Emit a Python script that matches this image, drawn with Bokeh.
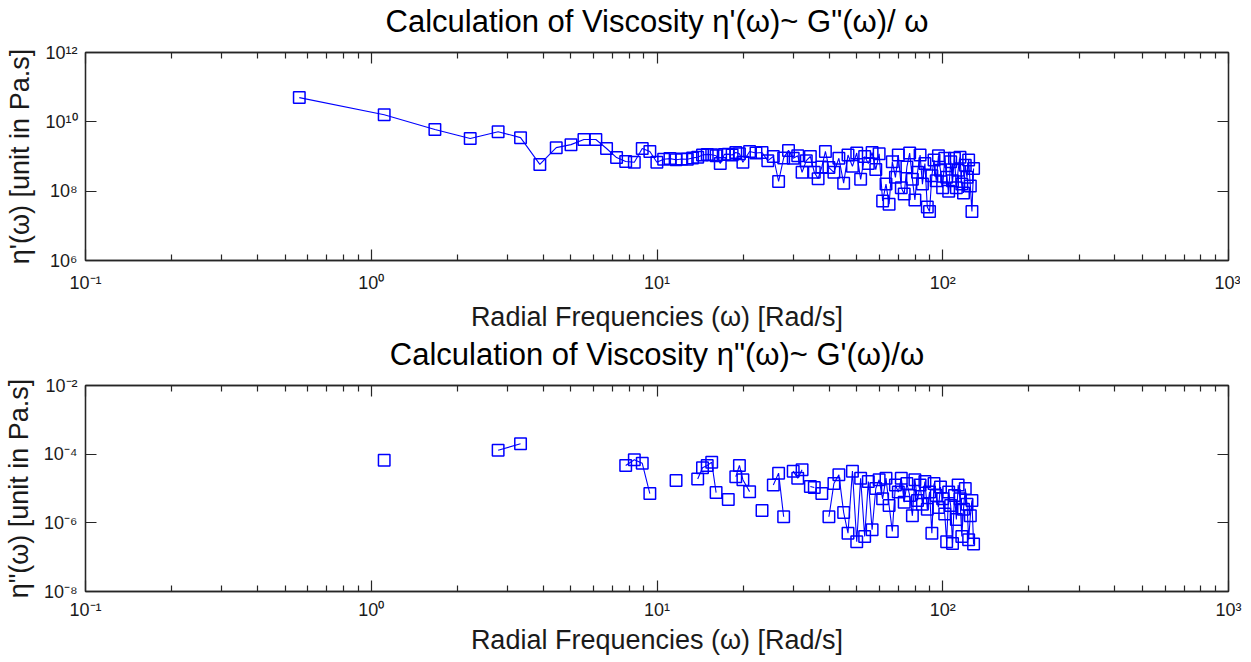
from bokeh.plotting import figure
from bokeh.layouts import column
from bokeh.models import Range1d, FixedTicker, LogAxis, CustomJSTickFormatter
from bokeh.embed import file_html
from bokeh.resources import INLINE

nan = float("nan")

# Radial frequencies [rad/s]
freq = [0.56, 1.11, 1.67, 2.22, 2.78, 3.33, 3.89, 4.44, 5.00, 5.55, 6.11, 6.66, 7.22, 7.77,
        8.33, 8.88, 9.44, 9.99, 10.55, 11.10, 11.66, 12.21, 12.77, 13.32, 13.88, 14.43, 14.99,
        15.54, 16.10, 16.65, 17.21, 17.76, 18.32, 18.87, 19.43, 19.98,
        21.09, 22.20, 23.31, 24.42, 25.53, 26.64, 27.75, 28.86, 29.97, 31.08, 32.19, 33.30,
        34.41, 35.52, 36.63, 37.74, 38.85, 39.96,
        41.6, 43.3, 45.0, 46.6, 48.3, 50.0, 51.6, 53.3, 54.9, 56.6, 58.3, 59.9, 61.6, 63.3,
        64.9, 66.6, 68.3, 69.9, 71.6, 73.3, 74.9, 76.6, 78.3, 79.9, 81.6, 83.3, 84.9, 86.6,
        88.3, 89.9, 91.6, 93.2, 94.9, 96.6, 98.2, 99.9, 101.6, 103.2, 104.9, 106.6, 108.2,
        109.9, 111.6, 113.2, 114.9, 116.6, 118.2, 119.9, 121.6, 123.2, 124.9, 126.5, 128.2]

# eta'(w) ~ G''(w)/w  [Pa.s]
eta_p = [5.0e10, 1.6e10, 6.0e9, 3.3e9, 5.2e9, 3.5e9, 5.9e8, 1.8e9, 2.2e9, 3.1e9, 3.1e9, 1.7e9,
         9.3e8, 7.2e8, 6.8e8, 1.7e9, 1.4e9, 6.8e8, 8.3e8, 8.7e8, 8.1e8, 8.5e8, 8.3e8, 9.1e8,
         9.5e8, 1.1e9, 1.15e9, 1.12e9, 1.05e9, 6.3e8, 1.15e9, 1.17e9, 1.1e9, 1.3e9, 1.2e9, 6.8e8,
         1.4e9, 1.26e9, 1.3e9, 7.6e8, 1.0e9, 1.9e8, 9.1e8, 1.5e9, 8.9e8, 1.05e9, 3.5e8, 7.6e8,
         1.0e9, 3.5e8, 2.3e8, 5.0e8, 1.4e9, 4.8e8,
         3.5e8, 8.9e8, 1.7e8, 1.1e9, 5.2e8, 1.26e9, 2.2e8, 1.0e9, 6.3e8, 1.3e9, 4.2e8, 1.2e9,
         5.2e7, 1.6e8, 4.2e7, 7.1e8, 2.5e8, 1.1e9, 1.26e8, 8.3e7, 5.0e8, 1.26e9, 2.2e8, 5.6e7,
         3.5e8, 1.1e9, 1.6e8, 6.3e8, 3.5e7, 2.6e7, 2.8e8, 7.9e8, 2.0e8, 1.05e9, 4.0e8, 1.26e8,
         8.9e8, 2.5e8, 1.0e8, 7.1e8, 2.0e8, 8.9e8, 1.26e8, 4.0e8, 9.5e8, 1.6e8, 8.9e7, 5.6e8,
         2.5e8, 7.9e8, 1.4e8, 2.6e7, 4.5e8]

# eta''(w) ~ G'(w)/w  [Pa.s]  (nan = not plottable on log axis)
eta_pp = [nan, 6.6e-5, nan, nan, 1.3e-4, 2.0e-4, nan, nan, nan, nan, nan, nan, nan, 4.7e-5,
          6.9e-5, 5.4e-5, 7.1e-6, nan, nan, nan, 1.7e-5, nan, nan, nan, 1.9e-5, 4.0e-5, 4.7e-5,
          5.8e-5, 7.6e-6, nan, nan, 4.8e-6, nan, 2.2e-5, 4.7e-5, 1.8e-5,
          8.1e-6, nan, 2.3e-6, nan, 1.26e-5, 2.8e-5, 1.5e-6, nan, 3.2e-5, 2.0e-5, 3.5e-5, nan,
          1.15e-5, 1.07e-5, nan, 7.1e-6, nan, 1.5e-6,
          1.4e-5, 2.5e-5, 2.0e-6, 5.0e-7, 3.2e-5, 2.8e-7, 2.0e-5, 4.0e-7, 1.6e-5, 6.3e-7, 1.0e-5,
          1.8e-5, 5.0e-6, 2.0e-5, 3.2e-6, 5.6e-7, 1.26e-5, 7.9e-6, 2.0e-5, 4.0e-6, 1.4e-5, 6.3e-6,
          1.6e-6, 1.8e-5, 4.5e-6, 1.26e-5, 3.5e-6, 1.6e-5, 2.5e-6, 7.9e-6, 5.0e-7, 1.4e-5, 6.3e-6,
          2.8e-6, 1.1e-5, 5.0e-6, 1.8e-6, 2.8e-7, 7.9e-6, 3.2e-6, 2.5e-7, 6.3e-6, 1.26e-6, 1.26e-5,
          5.0e-6, 4.0e-7, 2.5e-6, 1.0e-5, 3.5e-6, 3.2e-7, 1.6e-6, 4.5e-6, 2.4e-7]

x_ticks = [0.1, 1, 10, 100, 1000]
top_y_ticks = [1e6, 1e8, 1e10, 1e12]
bot_y_ticks = [1e-8, 1e-6, 1e-4, 1e-2]

titles = ["Calculation of Viscosity \u03b7'(\u03c9)~ G\"(\u03c9)/ \u03c9",
          "Calculation of Viscosity \u03b7\"(\u03c9)~ G'(\u03c9)/\u03c9"]
ylabels = ["\u03b7'(\u03c9) [unit in Pa.s]", "\u03b7\"(\u03c9) [unit in Pa.s]"]
xlabel = "Radial Frequencies (\u03c9) [Rad/s]"

FONT = "Liberation Sans"
BLUE = "#0000ff"

sup_js = """
const e = Math.round(Math.log10(tick));
const sup = {'-':'\u207b','0':'\u2070','1':'\u00b9','2':'\u00b2','3':'\u00b3','4':'\u2074',
             '5':'\u2075','6':'\u2076','7':'\u2077','8':'\u2078','9':'\u2079'};
return '10' + String(e).split('').map(c => sup[c]).join('');
"""
blank_js = "return ' ';"

minor_x = [m * d for d in [0.1, 1, 10, 100] for m in range(2, 10)]


def style_axis(ax, ticker, labels=True, minor=True, gap=0):
    ax.ticker = ticker
    ax.axis_line_color = "#262626"
    ax.axis_line_width = 1.3
    ax.major_tick_line_color = "#262626"
    ax.minor_tick_line_color = "#262626"
    ax.major_tick_line_width = 1.2
    ax.minor_tick_line_width = 1.2
    ax.major_tick_in = 11
    ax.major_tick_out = 0
    ax.minor_tick_in = 6 if minor else 0
    ax.minor_tick_out = 0
    if labels:
        ax.formatter = CustomJSTickFormatter(code=sup_js)
        ax.major_label_text_font = FONT
        ax.major_label_text_font_size = "18px"
        ax.major_label_text_color = "#1a1a1a"
    else:
        ax.formatter = CustomJSTickFormatter(code=blank_js)
        ax.major_label_standoff = gap
        ax.major_label_text_font_size = "1px"


def make_fig(idx, yvals, yr, yticks, top_b, frame_h, bot_b, tick_standoff, label_standoff):
    p = figure(frame_width=1143, frame_height=frame_h,
               x_axis_type="log", y_axis_type="log",
               x_range=Range1d(0.1, 1000), y_range=Range1d(*yr),
               output_backend="svg", toolbar_location=None,
               min_border_left=78, min_border_right=14,
               min_border_top=top_b, min_border_bottom=bot_b)
    p.background_fill_color = "white"
    p.border_fill_color = "white"
    p.outline_line_color = "#262626"
    p.outline_line_width = 1.3
    p.grid.visible = False

    p.title.text = titles[idx]
    p.title.align = "center"
    p.title.text_font = FONT
    p.title.text_font_size = "31px"
    p.title.text_font_style = "normal"
    p.title.text_color = "#000000"
    p.title.standoff = 0

    xt = FixedTicker(ticks=x_ticks, minor_ticks=minor_x)
    yt = FixedTicker(ticks=yticks, minor_ticks=[])

    xa = p.xaxis[0]
    style_axis(xa, xt)
    xa.major_label_standoff = tick_standoff
    xa.axis_label = xlabel
    xa.axis_label_text_font = FONT
    xa.axis_label_text_font_size = "27px"
    xa.axis_label_text_font_style = "normal"
    xa.axis_label_text_color = "#1a1a1a"
    xa.axis_label_standoff = label_standoff

    ya = p.yaxis[0]
    style_axis(ya, yt, minor=False)
    ya.major_label_standoff = 8
    ya.axis_label = ylabels[idx]
    ya.axis_label_text_font = FONT
    ya.axis_label_text_font_size = "27px"
    ya.axis_label_text_font_style = "normal"
    ya.axis_label_text_color = "#1a1a1a"
    ya.axis_label_standoff = 7

    # mirrored ticks on top (its empty label band also spaces the title from the box)
    top_ax = LogAxis()
    style_axis(top_ax, FixedTicker(ticks=x_ticks, minor_ticks=minor_x), labels=False, gap=10)
    p.add_layout(top_ax, "above")
    right_ax = LogAxis()
    style_axis(right_ax, FixedTicker(ticks=yticks, minor_ticks=[]), labels=False, minor=False)
    p.add_layout(right_ax, "right")

    p.line(freq, yvals, line_color=BLUE, line_width=1.1)
    p.scatter(freq, yvals, marker="square", size=11.5, fill_color=None,
              line_color=BLUE, line_width=1.5)
    return p


p1 = make_fig(0, eta_p, (1e6, 1e12), top_y_ticks, 52, 208, 72, 12, 6)
p2 = make_fig(1, eta_pp, (1e-8, 1e-2), bot_y_ticks, 50, 206, 63, 8, 2)

layout = column(p1, p2, spacing=0)
open("out.html", "w").write(file_html(layout, INLINE))
